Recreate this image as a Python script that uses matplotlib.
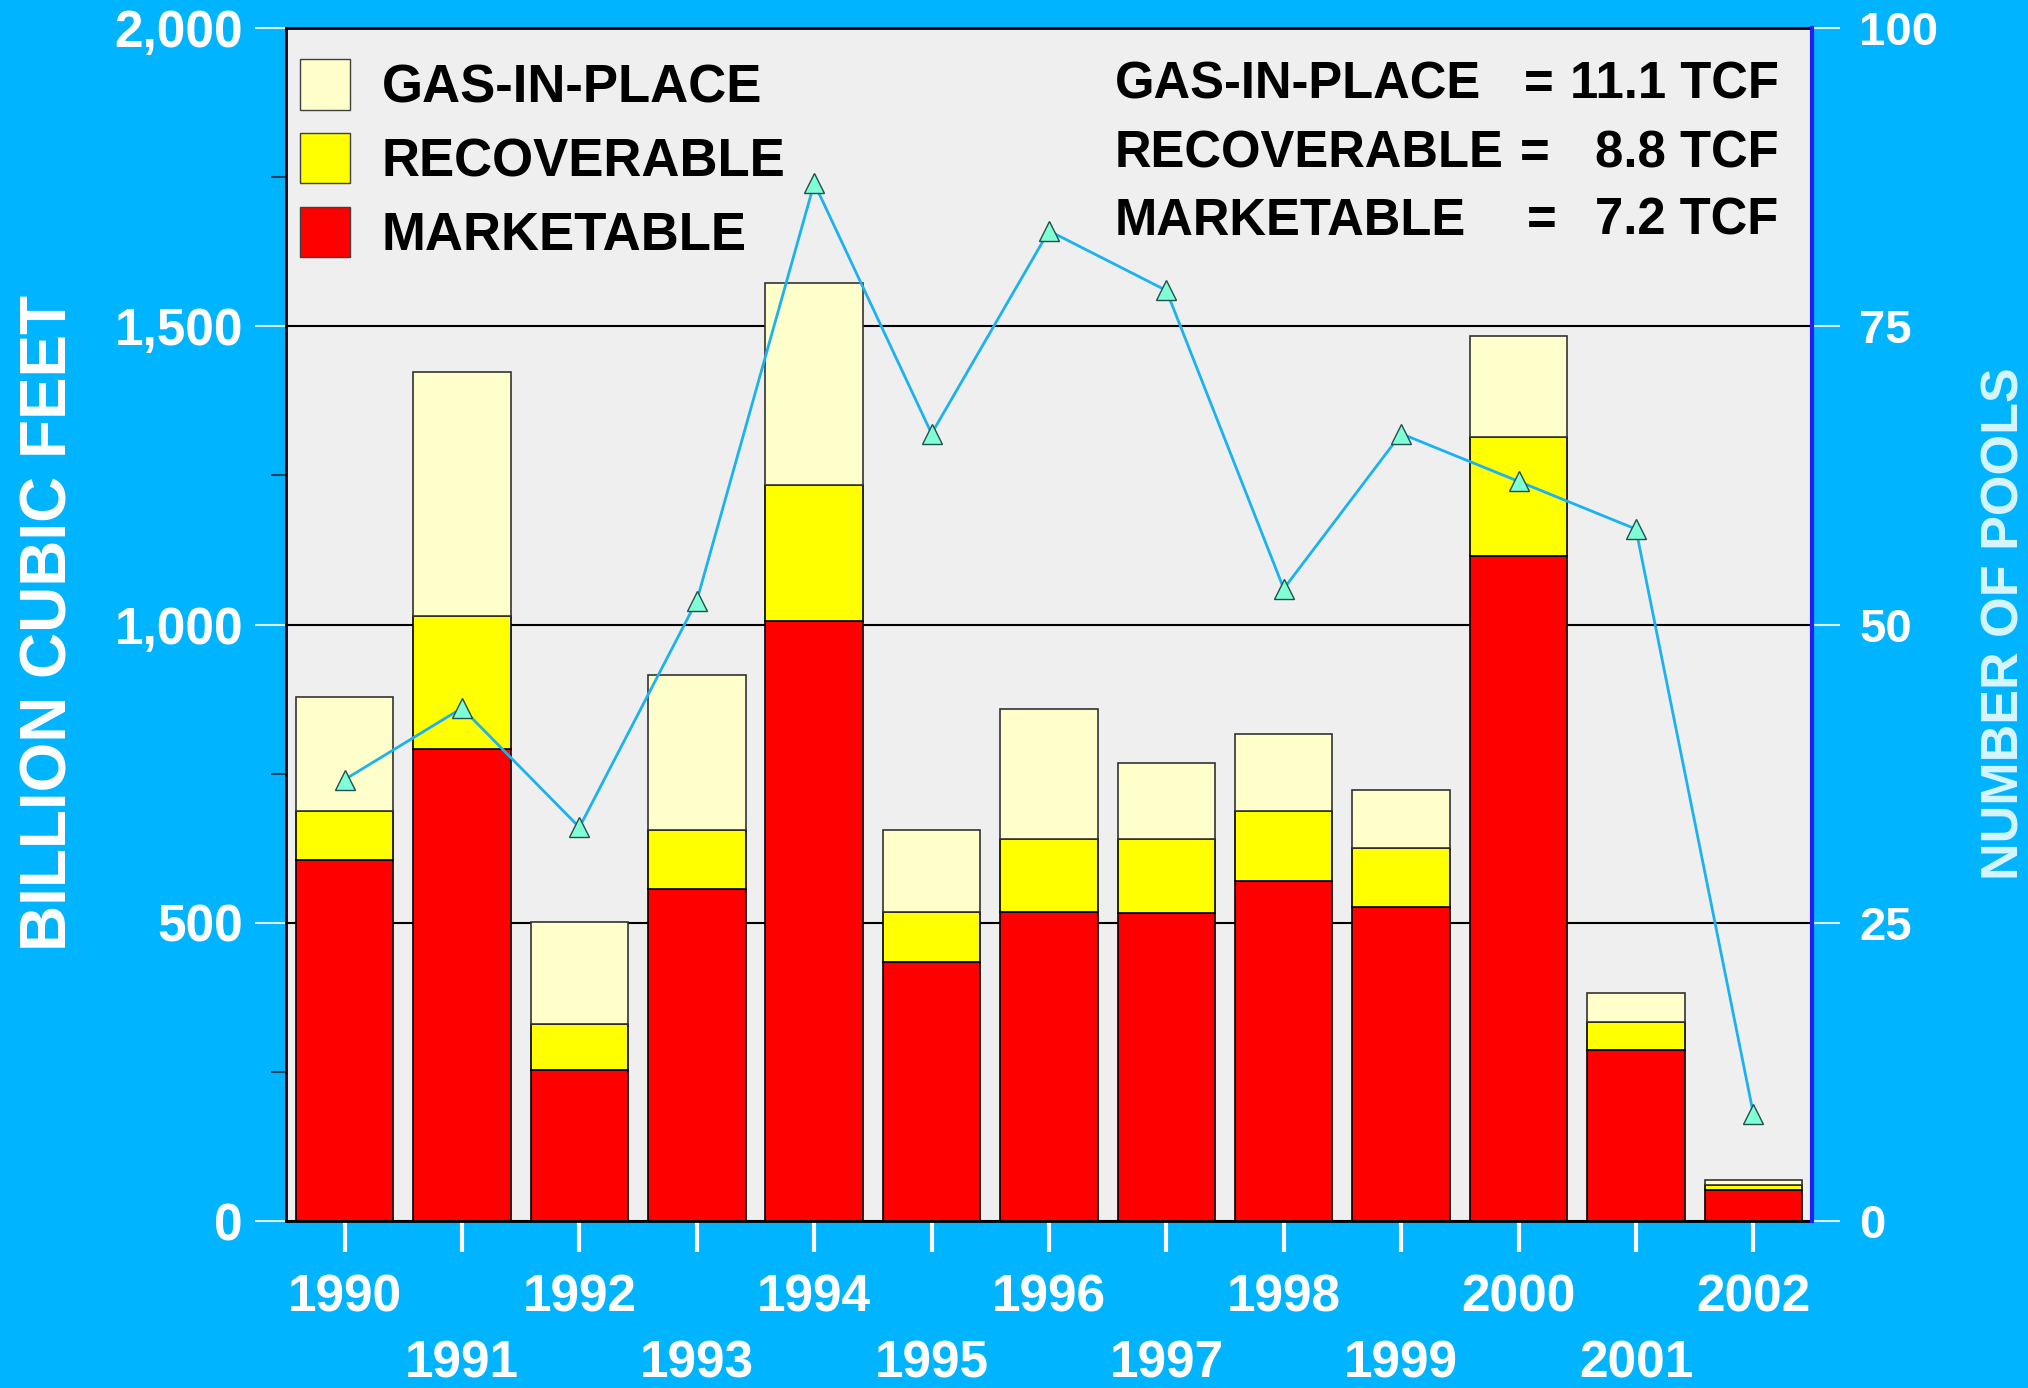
import numpy as np
import matplotlib
matplotlib.use("Agg")
import matplotlib.pyplot as plt
import matplotlib.patches as mpatches
from matplotlib.ticker import FixedLocator, FuncFormatter

plt.rcParams["font.family"] = ["Liberation Sans", "DejaVu Sans"]
plt.rcParams["font.weight"] = "bold"

years = [str(y) for y in range(1990, 2003)]
gas_in_place = [878, 1423, 501, 915, 1573, 655, 859, 768, 816, 722, 1484, 382, 69]
recoverable = [688, 1015, 330, 655, 1234, 518, 640, 640, 688, 625, 1315, 334, 61]
marketable = [605, 792, 254, 557, 1006, 434, 518, 516, 570, 527, 1115, 286, 52]
num_pools = [37, 43, 33, 52, 87, 66, 83, 78, 53, 66, 62, 58, 9]

summary_names = ["GAS-IN-PLACE", "RECOVERABLE", "MARKETABLE"]
summary_vals = ["11.1 TCF", "8.8 TCF", "7.2 TCF"]

BG = "#00b4ff"
FACE = "#efefef"
C_GIP = "#ffffcc"
C_REC = "#ffff00"
C_MKT = "#ff0000"
LINE = "#1ab2f0"
MARK = "#80ffd4"

fig = plt.figure(figsize=(20.28, 13.88), dpi=100, facecolor=BG)
ax = fig.add_axes([0.1410, 0.1203, 0.7525, 0.8595])
ax.set_facecolor(FACE)

x = np.arange(len(years))
w = 0.83
rec_top = np.array(recoverable) - np.array(marketable)
gip_top = np.array(gas_in_place) - np.array(recoverable)
ax.bar(x, marketable, w, color=C_MKT, edgecolor="black", linewidth=1.2, zorder=2)
ax.bar(x, rec_top, w, bottom=marketable, color=C_REC, edgecolor="black", linewidth=1.2, zorder=2)
ax.bar(x, gip_top, w, bottom=recoverable, color=C_GIP, edgecolor="#333333", linewidth=1.2, zorder=2)

ax.set_xlim(-0.5, len(years) - 0.5)
ax.set_ylim(0, 2000)
ax.set_yticks([0, 500, 1000, 1500, 2000])
ax.yaxis.set_minor_locator(FixedLocator([250, 750, 1250, 1750]))
ax.yaxis.set_major_formatter(FuncFormatter(lambda v, p: f"{int(v):,}"))
ax.grid(axis="y", which="major", color="black", linewidth=1.5, zorder=1)
ax.set_axisbelow(True)

# alternating two rows of year labels: even years on major ticks, odd on minor
ax.xaxis.set_major_locator(FixedLocator(x[::2]))
ax.xaxis.set_minor_locator(FixedLocator(x[1::2]))
ax.set_xticklabels(years[::2])
ax.set_xticklabels(years[1::2], minor=True)
ax.tick_params(axis="x", which="both", direction="out", length=22, width=3,
               color="white", labelcolor="white", labelsize=37)
ax.tick_params(axis="x", which="major", pad=16)
ax.tick_params(axis="x", which="minor", pad=63)

ax.tick_params(axis="y", which="major", direction="out", length=22, width=1.5,
               color="#d8f4ff", labelcolor="white", labelsize=37, pad=9)
ax.tick_params(axis="y", which="minor", direction="out", length=11, width=1.5,
               color="#1a4060")

for s in ["left", "top", "bottom"]:
    ax.spines[s].set_color("black")
    ax.spines[s].set_linewidth(2)

handles = [
    mpatches.Patch(facecolor=C_GIP, edgecolor="#404040", label="GAS-IN-PLACE"),
    mpatches.Patch(facecolor=C_REC, edgecolor="#404040", label="RECOVERABLE"),
    mpatches.Patch(facecolor=C_MKT, edgecolor="#404040", label="MARKETABLE"),
]
ax.legend(handles=handles, loc="upper left", bbox_to_anchor=(-0.0065, 0.994), borderaxespad=0,
          borderpad=0.45, frameon=False, fontsize=38, handlelength=0.95,
          handleheight=1.1, handletextpad=0.6, labelspacing=0.37)

# number of pools on the right axis
ax2 = ax.twinx()
ax2.set_ylim(0, 100)
ax2.set_yticks([0, 25, 50, 75, 100])
ax2.plot(x, num_pools, color=LINE, linewidth=2, marker="^", markersize=14,
         markerfacecolor=MARK, markeredgecolor="#205050", markeredgewidth=1, zorder=3)
ax2.tick_params(axis="y", direction="out", length=20, width=1.5, color="#d8f4ff",
                labelcolor="white", labelsize=34, pad=14)
ax2.spines["right"].set_color("#2020ff")
ax2.spines["right"].set_linewidth(3)
for s in ["left", "top", "bottom"]:
    ax2.spines[s].set_visible(False)

# summary text block
rows_y = [0.952, 0.894, 0.838]
eq_x = [0.821, 0.818, 0.823]
for name, val, yy, ex in zip(summary_names, summary_vals, rows_y, eq_x):
    kw = dict(transform=ax.transAxes, fontsize=36.5, color="black", va="center", zorder=5,
              bbox=dict(facecolor=FACE, edgecolor="none", pad=2))
    ax2.text(0.543, yy, name, ha="left", **kw)
    ax2.text(ex, yy, "=", ha="center", **kw)
    ax2.text(0.978, yy, val, ha="right", **kw)

fig.text(0.0242, 0.551, "BILLION CUBIC FEET", rotation=90, ha="center", va="center",
         fontsize=46, color="white")
fig.text(0.9885, 0.551, "NUMBER OF POOLS", rotation=90, ha="center", va="center",
         fontsize=37.5, color="#d6f6ff")

fig.savefig("out.png", dpi=100, facecolor=BG)
